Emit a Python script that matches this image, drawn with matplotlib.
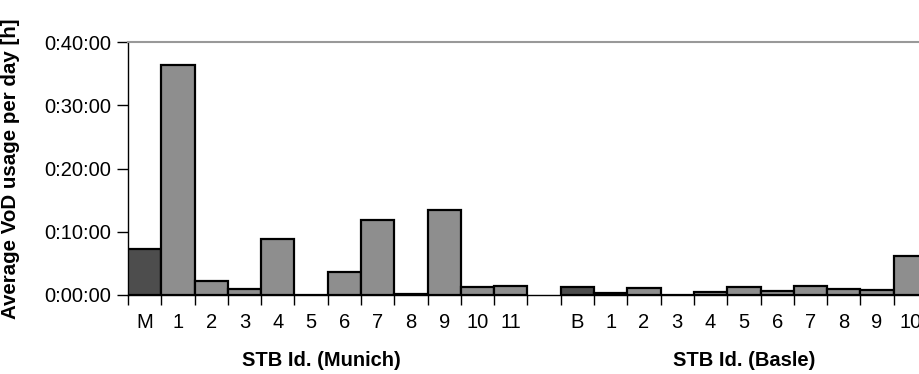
import matplotlib
matplotlib.use("Agg")
import matplotlib.pyplot as plt
from matplotlib.ticker import FuncFormatter, FixedLocator
import numpy as np

plt.rcParams['font.family'] = ['Liberation Sans', 'DejaVu Sans']

# average VoD usage per day, in seconds
munich_ids = ["M", "1", "2", "3", "4", "5", "6", "7", "8", "9", "10", "11"]
munich_secs = [436, 2182, 136, 60, 531, 0, 215, 714, 9, 810, 72, 88]
basle_ids = ["B", "1", "2", "3", "4", "5", "6", "7", "8", "9", "10"]
basle_secs = [78, 22, 66, 0, 28, 78, 38, 88, 60, 48, 366]

DARK = "#4d4d4d"
LIGHT = "#8e8e8e"

fig = plt.figure(figsize=(9.2, 3.74), dpi=100)
ax = fig.add_axes([128 / 920, 79 / 374, 799 / 920, 253 / 374])

gap = 1
m_pos = np.arange(len(munich_ids)) + 0.5
b_pos = np.arange(len(basle_ids)) + len(munich_ids) + gap + 0.5

for pos, secs in ((m_pos, munich_secs), (b_pos, basle_secs)):
    colors = [DARK] + [LIGHT] * (len(secs) - 1)
    ax.bar(pos, secs, width=1.0, color=colors, edgecolor="black",
           linewidth=1.6, zorder=3)

n_slots = len(munich_ids) + gap + len(basle_ids)
ax.set_xlim(0, n_slots)
ax.set_ylim(0, 2400)

def hms(v, _):
    v = int(round(v))
    return "%d:%02d:%02d" % (v // 3600, (v % 3600) // 60, v % 60)

ax.yaxis.set_major_locator(FixedLocator([0, 600, 1200, 1800, 2400]))
ax.yaxis.set_major_formatter(FuncFormatter(hms))
ax.tick_params(axis="y", direction="out", length=8, width=1, pad=4,
               labelsize=14.5)

ax.set_xticks(np.concatenate([m_pos, b_pos]))
ax.set_xticklabels(munich_ids + basle_ids)
ax.set_xticks(np.arange(0, n_slots + 1), minor=True)
ax.tick_params(axis="x", which="major", length=0, pad=13, labelsize=14.5)
ax.tick_params(axis="x", which="minor", direction="out", length=7, width=1)

ax.spines["right"].set_visible(False)
ax.spines["top"].set_color("#999999")
ax.spines["top"].set_linewidth(1.5)
ax.spines["left"].set_linewidth(1)
ax.spines["bottom"].set_linewidth(1)

ax.set_ylabel("Average VoD usage per day [h]", fontsize=14.8, fontweight="bold")
ax.yaxis.set_label_coords(-0.135, 0.5)

ax.text(len(munich_ids) / 2 - 0.2, -0.26, "STB Id. (Munich)",
        transform=ax.get_xaxis_transform(), ha="center", va="center",
        fontsize=14.5, fontweight="bold")
ax.text(b_pos.mean(), -0.26, "STB Id. (Basle)",
        transform=ax.get_xaxis_transform(), ha="center", va="center",
        fontsize=14.5, fontweight="bold")

fig.savefig("out.png", dpi=100)
